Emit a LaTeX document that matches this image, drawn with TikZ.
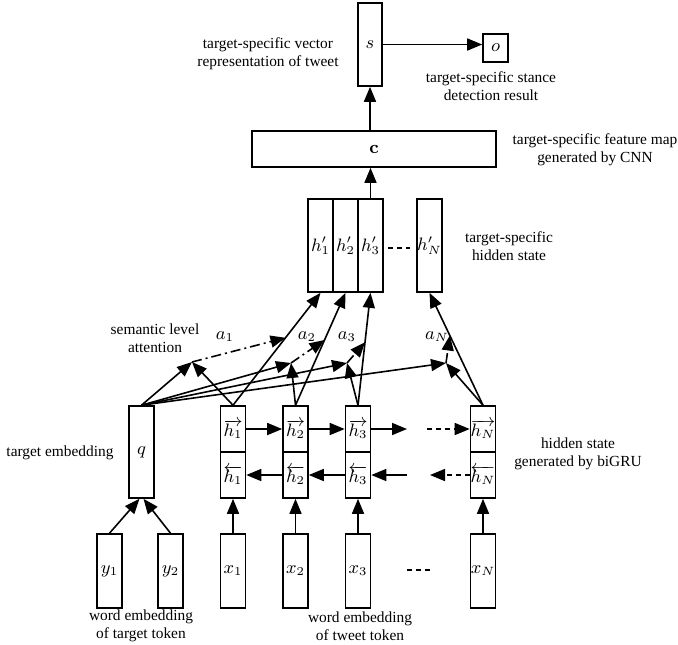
\documentclass[tikz,border=0pt]{standalone}
\usepackage[no-math]{fontspec}
\setmainfont{Liberation Serif}
\usetikzlibrary{arrows.meta,calc}
\begin{document}
\begin{tikzpicture}[x=0.5pt,y=-0.5pt,
  box/.style={draw,line width=0.8pt,inner sep=0pt,minimum width=12.5pt,font=\fontsize{9}{10}\selectfont},
  lbl/.style={align=center,inner sep=0pt,font=\fontsize{7.7}{9}\selectfont},
  mlbl/.style={inner sep=0pt,font=\fontsize{9}{10}\selectfont},
  arr/.style={line width=0.8pt,-{Triangle[length=7.5pt,width=6pt]}},
  darr/.style={arr,dash pattern=on 2.5pt off 2pt},
  aarr/.style={arr,dash pattern=on 5pt off 2pt on 1pt off 2pt},
  dotline/.style={line width=0.8pt,dash pattern=on 2.5pt off 2pt}]
\useasboundingbox (0,0) rectangle (678,644);

% top
\node[box,minimum width=12pt,minimum height=41.5pt] (s) at (370,44.5) {$s$};
\node[box,minimum height=14pt] (o) at (495.5,48) {$o$};
\node[box,minimum width=122pt,minimum height=18pt] (c) at (374,149) {$\mathbf{c}$};

% target-specific hidden states
\node[box,minimum height=46.5pt] (hp1) at (320.5,245.5) {$h'_1$};
\node[box,minimum height=46.5pt] (hp2) at (345.5,245.5) {$h'_2$};
\node[box,minimum height=46.5pt] (hp3) at (370.5,245.5) {$h'_3$};
\node[box,minimum height=46.5pt] (hpN) at (429.5,245.5) {$h'_N$};

% biGRU hidden states
\node[box,minimum height=23pt] (h1f) at (233,429) {$\overrightarrow{h_1}$};
\node[box,minimum height=23pt] (h1b) at (233,475) {$\overleftarrow{h_1}$};
\node[box,minimum height=23pt] (h2f) at (295.5,429) {$\overrightarrow{h_2}$};
\node[box,minimum height=23pt] (h2b) at (295.5,475) {$\overleftarrow{h_2}$};
\node[box,minimum height=23pt] (h3f) at (358,429) {$\overrightarrow{h_3}$};
\node[box,minimum height=23pt] (h3b) at (358,475) {$\overleftarrow{h_3}$};
\node[box,minimum height=23pt] (hNf) at (483,429) {$\overrightarrow{h_N}$};
\node[box,minimum height=23pt] (hNb) at (483,475) {$\overleftarrow{h_N}$};

% target embedding
\node[box,minimum height=46pt] (q) at (141.5,452) {$q$};

% word embeddings
\node[box,minimum height=37pt] (y1) at (109.5,571) {$y_1$};
\node[box,minimum height=37pt] (y2) at (170.5,571) {$y_2$};
\node[box,minimum height=37pt] (x1) at (233,571) {$x_1$};
\node[box,minimum height=37pt] (x2) at (295.5,571) {$x_2$};
\node[box,minimum height=37pt] (x3) at (358,571) {$x_3$};
\node[box,minimum height=37pt] (xN) at (483,571) {$x_N$};

% labels
\node[lbl] (l1) at (268,53.5) {target-specific vector\\representation of tweet};
\node[lbl] (l2) at (491,86.5) {target-specific stance\\detection result};
\node[lbl] (l3) at (595,150) {target-specific feature map\\generated by CNN};
\node[lbl] (l4) at (509,246) {target-specific\\hidden state};
\node[lbl] (l5) at (155,338.5) {semantic level\\attention};
\node[lbl] (l6) at (60,453) {target embedding};
\node[lbl] (l7) at (578,454) {hidden state\\generated by biGRU};
\node[lbl] (l8) at (141,626) {word embedding\\of target token};
\node[lbl] (l9) at (360,626) {word embedding\\of tweet token};

% attention labels
\node[mlbl] (a1) at (225,337) {$a_1$};
\node[mlbl] (a2) at (307,337) {$a_2$};
\node[mlbl] (a3) at (347,337) {$a_3$};
\node[mlbl] (aN) at (437,337) {$a_N$};

% helper coordinates
\coordinate (p1) at (192,362);
\coordinate (p2) at (291,363);
\coordinate (p3) at (347,363);
\coordinate (pN) at (446,363);
\coordinate (f3) at (407,429);
\coordinate (f4) at (427,429);
\coordinate (b3) at (407,475);
\coordinate (b4) at (430,475);
\coordinate (d1) at (388,248);
\coordinate (d2) at (410,248);
\coordinate (d3) at (407,570);
\coordinate (d4) at (431,570);

% top connections
\draw[arr] (s.east) -- (s.east -| o.west);
\draw[arr] (c.north -| s.south) -- (s.south);
\draw[arr] (hp3.north) -- (hp3.north |- c.south);
\draw[dotline] (d1) -- (d2);
\draw[dotline] (d3) -- (d4);

% word embeddings up
\draw[arr] (y1.north) -- ($(q.south)+(-2,0)$);
\draw[arr] (y2.north) -- ($(q.south)+(2,0)$);
\draw[arr] (x1.north) -- (h1b.south);
\draw[arr] (x2.north) -- (h2b.south);
\draw[arr] (x3.north) -- (h3b.south);
\draw[arr] (xN.north) -- (hNb.south);

% biGRU recurrences
\draw[arr] (h1f.east) -- (h2f.west);
\draw[arr] (h2f.east) -- (h3f.west);
\draw[arr] (h3f.east) -- (f3);
\draw[darr] (f4) -- (hNf.west);
\draw[arr] (h2b.west) -- (h1b.east);
\draw[arr] (h3b.west) -- (h2b.east);
\draw[arr] (b3) -- (h3b.east);
\draw[darr] (hNb.west) -- (b4);

% to target-specific hidden states
\draw[arr] (h1f.north) -- (hp1.south);
\draw[arr] (h2f.north) -- (hp2.south);
\draw[arr] (h3f.north) -- (hp3.south);
\draw[arr] (hNf.north) -- (hpN.south);

% attention
\draw[arr] (q.north) -- (p1);
\draw[arr] (q.north) -- (p2);
\draw[arr] (q.north) -- (p3);
\draw[arr] (q.north) -- (pN);
\draw[arr] (h1f.north) -- (p1);
\draw[arr] (h2f.north) -- (p2);
\draw[arr] (h3f.north) -- (p3);
\draw[arr] (hNf.north) -- (pN);

\coordinate (t1) at ($(h1f.north)!0.6!(hp1.south)$);
\coordinate (t2) at ($(h2f.north)!0.58!(hp2.south)$);
\coordinate (t3) at ($(h3f.north)!0.56!(hp3.south)$);
\coordinate (tN) at ($(hNf.north)!0.62!(hpN.south)$);
\draw[aarr] (p1) -- (t1);
\draw[aarr] (p2) -- (t2);
\draw[aarr] (p3) -- (t3);
\draw[aarr] (pN) -- (tN);
\end{tikzpicture}
\end{document}
